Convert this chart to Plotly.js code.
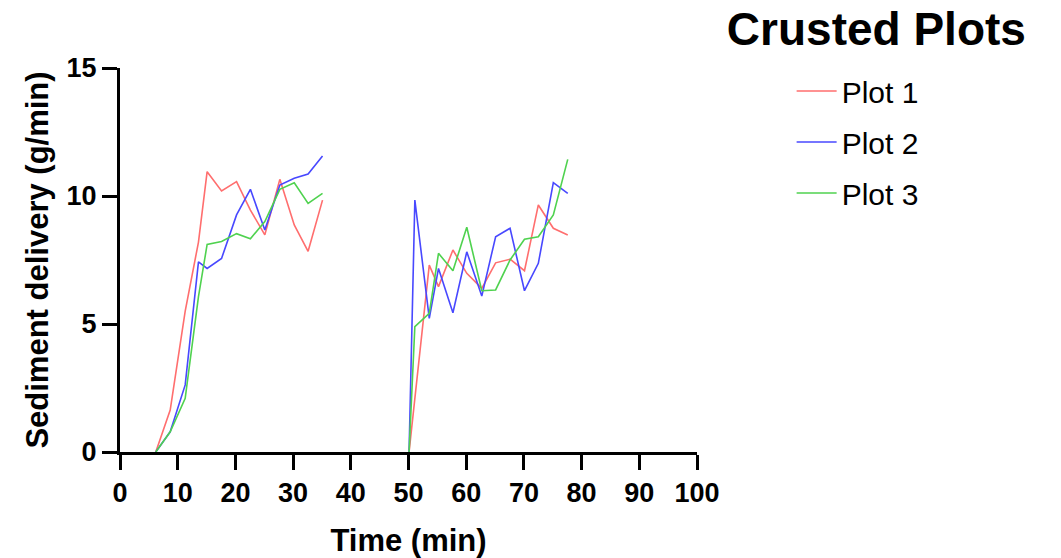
<!DOCTYPE html>
<html>
<head>
<meta charset="utf-8">
<script src="https://cdn.plot.ly/plotly-3.0.1.min.js"></script>
<style>html,body{margin:0;padding:0;background:#fff}#chart{width:1061px;height:558px}</style>
</head>
<body>
<div id="chart"></div>
<script>
// Data
const timeRun1 = [6.2, 8.7, 11.3, 13.6, 15.1, 17.6, 20.2, 22.6, 25.1, 27.7, 30.2, 32.6, 35.1];
const timeRun2 = [50.1, 51.1, 53.6, 55.2, 57.7, 60.1, 62.7, 65.1, 67.6, 70.1, 72.5, 75.1, 77.6];
const timeRun2Plot1 = [50.1, 53.6, 55.2, 57.7, 60.1, 62.7, 65.1, 67.6, 70.1, 72.5, 75.1, 77.6];

const plot1Run1 = [0, 1.64, 5.5, 8.2, 10.95, 10.2, 10.56, 9.45, 8.48, 10.65, 8.87, 7.84, 9.84];
const plot1Run2 = [0, 7.3, 6.46, 7.89, 6.98, 6.39, 7.39, 7.53, 7.08, 9.65, 8.74, 8.48];
const plot2Run1 = [0, 0.79, 2.62, 7.43, 7.17, 7.56, 9.26, 10.26, 8.67, 10.43, 10.69, 10.86, 11.56];
const plot2Run2 = [0, 9.84, 5.22, 7.17, 5.44, 7.82, 6.09, 8.41, 8.74, 6.3, 7.37, 10.52, 10.1];
const plot3Run1 = [0, 0.79, 2.1, 6.07, 8.11, 8.22, 8.53, 8.33, 9.0, 10.26, 10.52, 9.71, 10.1];
const plot3Run2 = [0, 4.9, 5.42, 7.76, 7.08, 8.78, 6.3, 6.33, 7.5, 8.31, 8.41, 9.26, 11.43];

const seriesNames = ['Plot 1', 'Plot 2', 'Plot 3'];
const xTicks = [0, 10, 20, 30, 40, 50, 60, 70, 80, 90, 100];
const yTicks = [0, 5, 10, 15];

const colors = ['#ff6e6e', '#4848ff', '#4fd24f'];
const joinX = (a, b) => a.concat([null], b);
const joinY = (a, b) => a.concat([null], b);

const traces = [
  {x: joinX(timeRun1, timeRun2Plot1), y: joinY(plot1Run1, plot1Run2)},
  {x: joinX(timeRun1, timeRun2), y: joinY(plot2Run1, plot2Run2)},
  {x: joinX(timeRun1, timeRun2), y: joinY(plot3Run1, plot3Run2)}
].map((t, i) => ({
  x: t.x, y: t.y, type: 'scatter', mode: 'lines', name: seriesNames[i],
  legendgroup: 'g' + i, connectgaps: false,
  line: {color: colors[i], width: 1.6}, cliponaxis: false
}));

const font = 'Liberation Sans, Arial, sans-serif';
const layout = {
  width: 1061, height: 558,
  margin: {l: 120, r: 364, t: 68, b: 106},
  paper_bgcolor: '#fff', plot_bgcolor: '#fff',
  showlegend: true,
  title: {
    text: '<b>Crusted Plots</b>', font: {family: font, size: 46, color: '#000'},
    xref: 'container', yref: 'container', x: 0.826, xanchor: 'center', y: 0.948, yanchor: 'middle'
  },
  legend: {
    x: 1.164, xanchor: 'left', y: 1.008, yanchor: 'top',
    font: {family: font, size: 30, color: '#000'},
    traceorder: 'grouped', tracegroupgap: 9, itemwidth: 40,
    bgcolor: 'rgba(0,0,0,0)'
  },
  xaxis: {
    range: [0, 100], tickvals: xTicks, ticktext: xTicks.map(String),
    showgrid: false, zeroline: false, showline: true, linecolor: '#000', linewidth: 3,
    ticks: 'outside', ticklen: 15, tickwidth: 3, tickcolor: '#000',
    tickfont: {family: font, size: 27, color: '#000', weight: 'bold'},
    title: {text: '<b>Time (min)</b>', font: {family: font, size: 31, color: '#000'}, standoff: 22},
    fixedrange: true
  },
  yaxis: {
    range: [0, 15], tickvals: yTicks, ticktext: yTicks.map(String),
    showgrid: false, zeroline: false, showline: true, linecolor: '#000', linewidth: 3,
    ticks: 'outside', ticklen: 15, tickwidth: 3, tickcolor: '#000',
    tickfont: {family: font, size: 27, color: '#000', weight: 'bold'},
    title: {text: '<b>Sediment delivery (g/min)</b>', font: {family: font, size: 31, color: '#000'}, standoff: 9},
    fixedrange: true
  }
};

Plotly.newPlot('chart', traces, layout, {displayModeBar: false, staticPlot: true});
</script>
</body>
</html>
